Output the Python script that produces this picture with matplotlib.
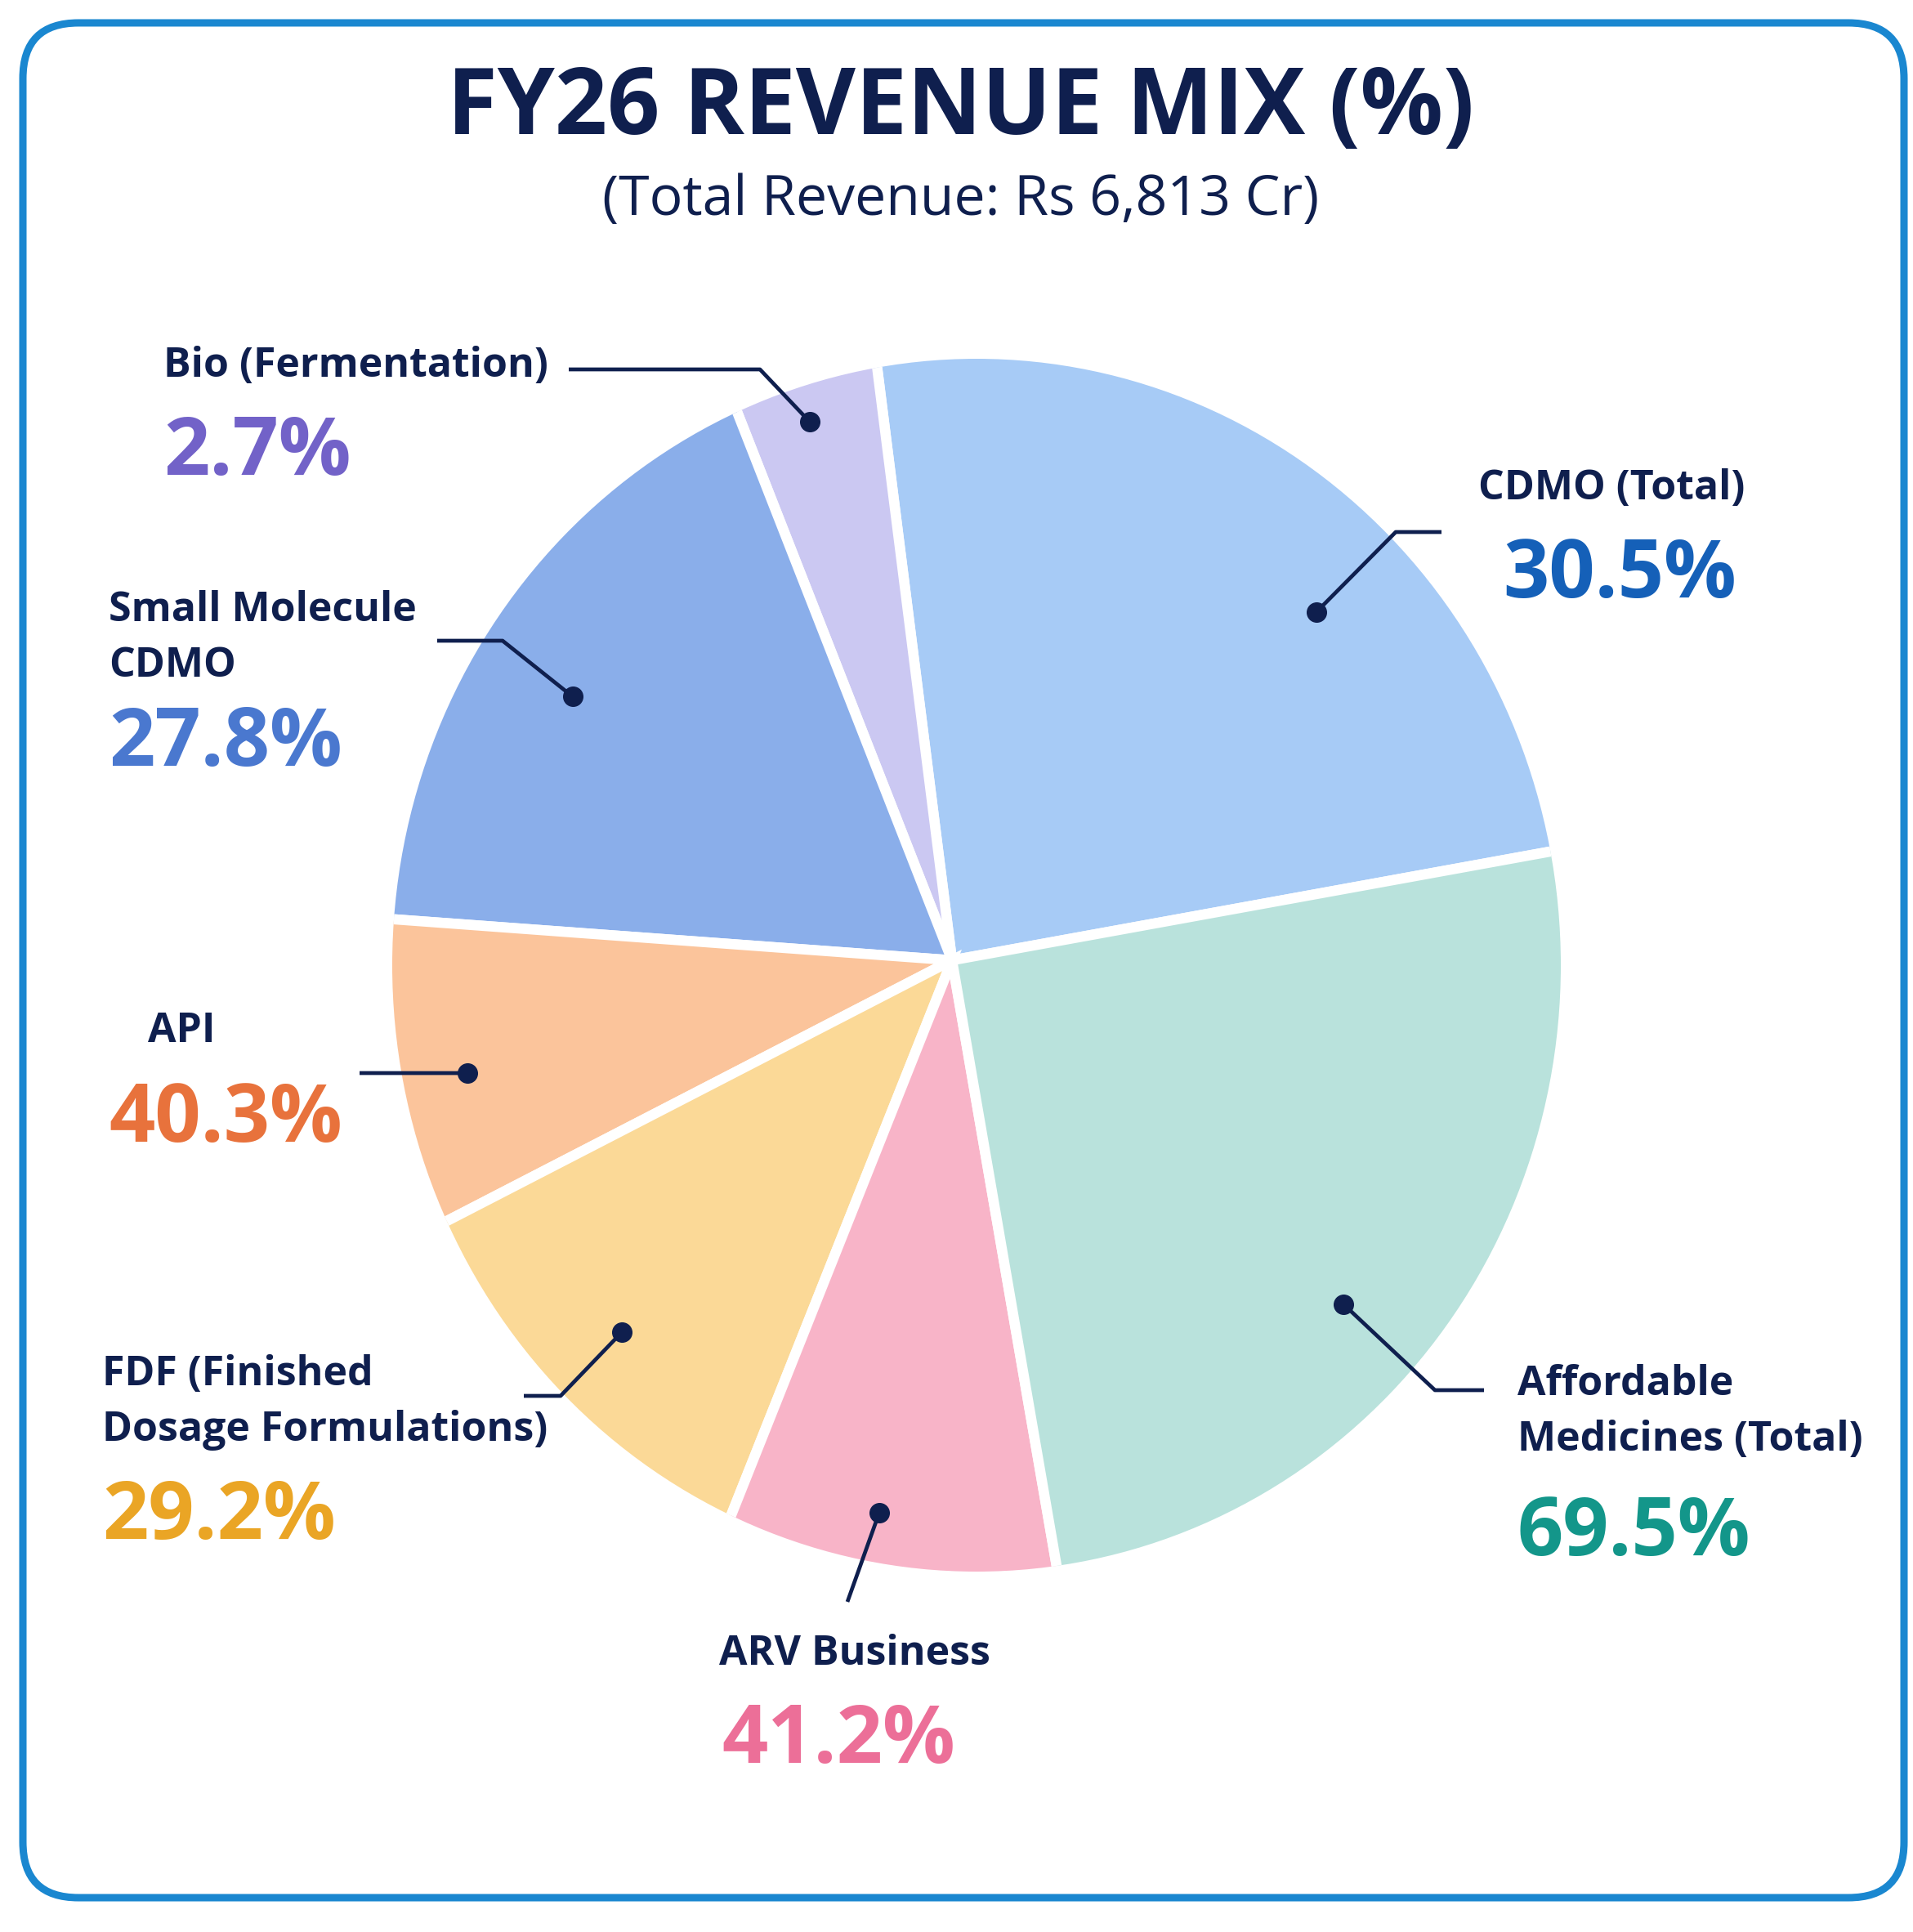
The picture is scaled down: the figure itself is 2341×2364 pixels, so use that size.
import numpy as np
import matplotlib.pyplot as plt
from matplotlib.patches import FancyBboxPatch, Ellipse

# Data (slice sizes, in degrees of the pie)
segments = ["CDMO (Total)", "Bio (Fermentation)", "Small Molecule\nCDMO", "API",
            "FDF (Finished\nDosage Formulations)", "ARV Business",
            "Affordable\nMedicines (Total)"]
slice_deg = [86.9, 14.2, 64.4, 31.5, 41.0, 31.5, 90.5]
pct_labels = ["30.5%", "2.7%", "27.8%", "40.3%", "29.2%", "41.2%", "69.5%"]

title = "FY26 REVENUE MIX (%)"
subtitle = "(Total Revenue: Rs 6,813 Cr)"

# Styling
slice_colors = ["#a7cbf6", "#cbc8f2", "#8aaeea", "#fbc49b", "#fbd997", "#f8b4c8", "#b9e2dc"]
pct_colors = ["#1560b8", "#7262c8", "#4a78cf", "#e8723c", "#eaa525", "#ec6f98", "#13968a"]
navy = "#0f1f4e"

W, H = 2341, 2364
cx, cy, R = 1165, 1175, 725

def Y(y):
    # pixel row (from top) -> data y
    return H - y

plt.rcParams['font.family'] = ['Open Sans', 'DejaVu Sans']

fig = plt.figure(figsize=(W / 100, H / 100), dpi=100)
ax = fig.add_axes([0, 0, 1, 1])

wedges, _ = ax.pie(slice_deg, colors=slice_colors, startangle=10.3, counterclock=True,
                   center=(cx, Y(cy)), radius=820,
                   wedgeprops=dict(edgecolor="white", linewidth=9))
# outline of the pie is slightly off-centre / oval in the original
outline = Ellipse((1195, Y(1181)), 2 * 715, 2 * 742, facecolor="none", edgecolor="none")
ax.add_patch(outline)
for w in wedges:
    w.set_clip_path(outline)
    w.set_clip_on(True)

ax.set_xlim(0, W)
ax.set_ylim(0, H)
ax.set_aspect("equal")
ax.axis("off")

# border
ax.add_patch(FancyBboxPatch((28, Y(2322)), 2302, 2294,
                            boxstyle="round,pad=0,rounding_size=68",
                            fill=False, edgecolor="#1a87d0", linewidth=6.5))

ax.text(1176, Y(135), title, ha="center", va="center", fontsize=81,
        fontweight="bold", color=navy)
ax.text(1176, Y(245), subtitle, ha="center", va="center", fontsize=49, color=navy)

# label layout: name (x, y, ha), pct (x, y, ha), dot (angle, r frac), leader path
name_pos = [(1972, 598, "center"), (200, 448, "left"), (133, 781, "left"), (181, 1262, "left"),
            (125, 1716, "left"), (880, 2024, "left"), (1857, 1728, "left")]
pct_pos = [(1982, 705, "center"), (200, 555, "left"), (133, 912, "left"), (133, 1372, "left"),
           (125, 1858, "left"), (883, 2132, "left"), (1857, 1877, "left")]
dot_pos = [(43.7, 0.85), (104.8, 0.94), (145.2, 0.78), (193.1, 0.84),
           (228.4, 0.84), (262.5, 0.94), (318.7, 0.88)]
leader_pts = [[(1764, 651), (1708, 651)],
              [(696, 452), (930, 452)],
              [(535, 784), (615, 784)],
              [(440, 1313)],
              [(641, 1708), (686, 1708)],
              [(1037, 1960)],
              [(1816, 1701), (1756, 1701)]]

for i in range(len(segments)):
    nx, ny, nha = name_pos[i]
    ax.text(nx, Y(ny), segments[i], ha=nha, va="center", fontsize=36,
            fontweight="bold", color=navy, linespacing=1.45)
    px, py, pha = pct_pos[i]
    ax.text(px, Y(py), pct_labels[i], ha=pha, va="center", fontsize=71,
            fontweight="bold", color=pct_colors[i])

    ang, fr = dot_pos[i]
    dx = cx + fr * R * np.cos(np.radians(ang))
    dy = Y(cy) + fr * R * np.sin(np.radians(ang))
    xs = [p[0] for p in leader_pts[i]] + [dx]
    ys = [Y(p[1]) for p in leader_pts[i]] + [dy]
    ax.plot(xs, ys, color=navy, linewidth=3.4, solid_capstyle="butt")
    ax.plot(dx, dy, "o", color=navy, markersize=17)

plt.savefig("out.png", dpi=100)
